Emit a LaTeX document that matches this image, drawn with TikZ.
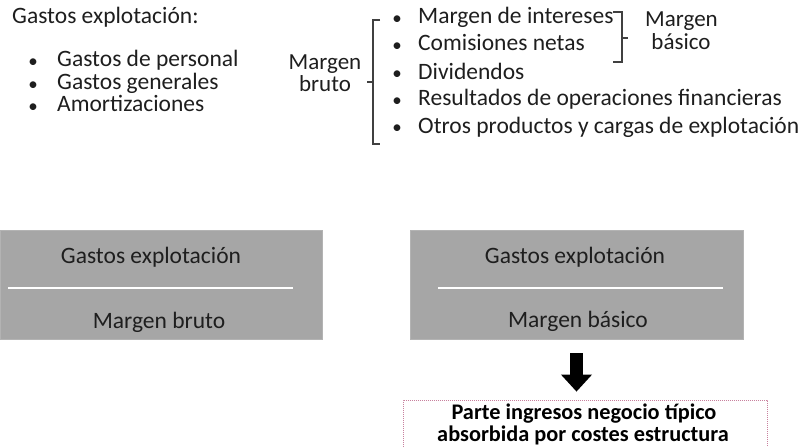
\documentclass[tikz,border=0pt]{standalone}
\usepackage{fontspec}
\setmainfont{Carlito}
\usetikzlibrary{arrows.meta,calc}
\definecolor{txtc}{HTML}{1E1E1E}
\definecolor{boxgray}{HTML}{A6A6A6}
\definecolor{dotc}{HTML}{C8819E}
\begin{document}
\begin{tikzpicture}[x=1pt,y=-1pt,
  txt/.style={font=\fontsize{23.5}{26}\selectfont, text=txtc, inner sep=0pt, anchor=west, text height=0.64em, text depth=0pt},
  bul/.style={font=\fontsize{19}{22}\selectfont, text=txtc, inner sep=0pt, anchor=center},
  lbl/.style={font=\fontsize{23}{26}\selectfont, text=txtc, inner sep=0pt, anchor=base, text height=0.64em, text depth=0pt},
  brk/.style={draw=txtc!85, line width=1.2pt},
  gbox/.style={fill=boxgray, draw=boxgray!85, line width=0.6pt, minimum width=322pt, minimum height=109pt, inner sep=0pt},
  btxt/.style={font=\fontsize{23.5}{26}\selectfont, text=txtc, inner sep=0pt, anchor=base},
  wline/.style={draw=white, line width=1.3pt},
  resbox/.style={draw=dotc, line width=0.8pt, dash pattern=on 0.9pt off 1.1pt, minimum width=364pt, minimum height=70pt, inner sep=0pt},
  restxt/.style={font=\bfseries\fontsize{22.3}{22}\selectfont, text=black, inner sep=0pt, anchor=base, text height=0.64em, text depth=0pt},
  bigarrow/.style={draw=black, line width=13pt, -{Triangle[width=30pt,length=17pt]}}
]
\useasboundingbox (0,0) rectangle (806,447);
\clip (0,0) rectangle (806,447);

% left list
\node[txt] (ge) at (12,20) {Gastos explotación:};
\node[bul] (lb1) at (33,63) {•};
\node[bul] (lb2) at (33,86) {•};
\node[bul] (lb3) at (33,108) {•};
\node[txt] (l1) at (57,63) {Gastos de personal};
\node[txt] (l2) at (57,86) {Gastos generales};
\node[txt] (l3) at (57,108) {Amortizaciones};

% margen bruto
\node[lbl] (mb1) at (325,69) {Margen};
\node[lbl] (mb2) at (325,91) {bruto};
\coordinate (bt) at (373,20);
\coordinate (bb) at (373,144);
\draw[brk] ($(bt)+(7,0)$) -- (bt) -- (bb) -- ($(bb)+(7,0)$);
\draw[brk] (373,82) -- (367,82);

% right list
\node[bul] (rb1) at (397,20) {•};
\node[bul] (rb2) at (397,47) {•};
\node[bul] (rb3) at (397,75) {•};
\node[bul] (rb4) at (397,102) {•};
\node[bul] (rb5) at (397,129) {•};
\node[txt] (r1) at (418,20) {Margen de intereses};
\node[txt] (r2) at (418,47) {Comisiones netas};
\node[txt] (r3) at (418,76) {Dividendos};
\node[txt] (r4) at (418,102) {Resultados de operaciones financieras};
\node[txt] (r5) at (418,130) {Otros productos y cargas de explotación};

% margen basico brace
\coordinate (ct) at (622,12);
\coordinate (cb) at (622,62);
\draw[brk] ($(ct)+(-9,0)$) -- (ct) -- (cb) -- ($(cb)+(-9,0)$);
\draw[brk] (622,38) -- (628,38);
\node[lbl] (mbas1) at (681.5,26) {Margen};
\node[lbl] (mbas2) at (681,49) {básico};

% gray boxes
\node[gbox] (box1) at (161,284.5) {};
\node[btxt] (g1) at (151,263) {Gastos explotación};
\node[btxt] (m1) at (159,328) {Margen bruto};
\draw[wline] (8,288) -- (293,288);

\node[gbox, minimum width=333pt] (box2) at (576.5,284.5) {};
\node[btxt] (g2) at (575,263) {Gastos explotación};
\node[btxt] (m2) at (578,327) {Margen básico};
\draw[wline] (438,288) -- (723,288);

% result box
\node[resbox] (res) at (585,435) {};
\node[restxt] (rt1) at (584,419) {Parte ingresos negocio típico};
\node[restxt] (rt2) at (583,441) {absorbida por costes estructura};

\draw[bigarrow, shorten <=14pt, shorten >=8pt] (box2.south) -- (box2.south |- res.north);
\end{tikzpicture}
\end{document}
